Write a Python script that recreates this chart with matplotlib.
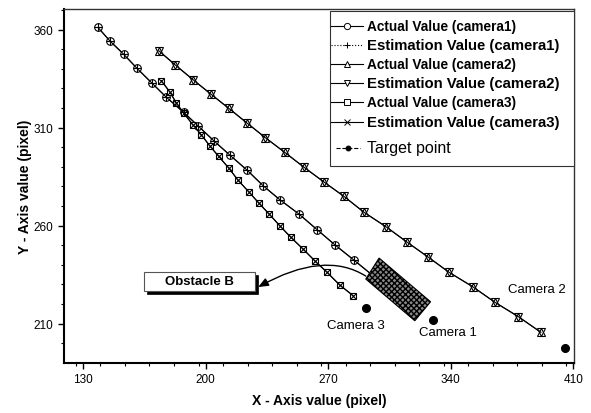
import matplotlib
matplotlib.use("Agg")
import matplotlib.pyplot as plt
from matplotlib.patches import Polygon, Rectangle, FancyArrowPatch
from matplotlib.path import Path
from matplotlib.ticker import MultipleLocator

plt.rcParams['font.family'] = ['Liberation Sans', 'DejaVu Sans']

# ---- trajectories (pixel coordinates on the image plane) ----
cam1_actual_x = [138.6, 145.3, 153.4, 160.9, 169.4, 177.7, 187.5, 195.7, 204.7, 213.8,
                 223.7, 232.9, 242.4, 253.3, 263.7, 273.8, 284.7, 295.5]
cam1_actual_y = [361.1, 354.3, 347.3, 340.2, 332.7, 325.4, 317.8, 310.9, 303.3, 296.0,
                 288.3, 280.3, 273.2, 265.9, 257.9, 250.2, 242.4, 234.5]
cam1_est_x = [138.6, 145.3, 153.4, 160.9, 169.4, 177.7, 187.5, 195.7, 204.7, 213.8,
              223.7, 232.9, 242.4, 253.3, 263.7, 273.8, 284.7, 295.5]
cam1_est_y = [361.1, 354.3, 347.3, 340.2, 332.7, 325.4, 317.8, 310.9, 303.3, 296.0,
              288.3, 280.3, 273.2, 265.9, 257.9, 250.2, 242.4, 234.5]

cam2_actual_x = [173.3, 182.8, 192.9, 203.0, 213.3, 223.7, 234.2, 245.3, 256.3, 267.5,
                 279.0, 290.6, 303.0, 314.8, 326.8, 339.1, 352.5, 365.3, 378.6, 391.5]
cam2_actual_y = [349.2, 341.9, 334.4, 327.1, 319.8, 312.3, 304.8, 297.3, 289.7, 282.3,
                 274.9, 266.7, 259.4, 251.7, 244.1, 236.1, 228.8, 220.8, 213.5, 205.5]
cam2_est_x = [173.3, 182.8, 192.9, 203.0, 213.3, 223.7, 234.2, 245.3, 256.3, 267.5,
              279.0, 290.6, 303.0, 314.8, 326.8, 339.1, 352.5, 365.3, 378.6, 391.5]
cam2_est_y = [349.2, 341.9, 334.4, 327.1, 319.8, 312.3, 304.8, 297.3, 289.7, 282.3,
              274.9, 266.7, 259.4, 251.7, 244.1, 236.1, 228.8, 220.8, 213.5, 205.5]

cam3_actual_x = [174.8, 179.5, 183.4, 187.5, 192.9, 197.7, 202.4, 207.5, 213.4, 218.6,
                 224.7, 230.4, 236.3, 242.4, 248.7, 255.7, 262.4, 269.4, 276.7, 284.3]
cam3_actual_y = [333.9, 328.3, 322.5, 317.4, 311.3, 306.2, 300.7, 295.3, 289.2, 283.1,
                 277.2, 271.5, 265.9, 259.9, 254.0, 248.0, 242.0, 236.1, 229.6, 224.2]
cam3_est_x = [174.8, 179.5, 183.4, 187.5, 192.9, 197.7, 202.4, 207.5, 213.4, 218.6,
              224.7, 230.4, 236.3, 242.4, 248.7, 255.7, 262.4, 269.4, 276.7, 284.3]
cam3_est_y = [333.9, 328.3, 322.5, 317.4, 311.3, 306.2, 300.7, 295.3, 289.2, 283.1,
              277.2, 271.5, 265.9, 259.9, 254.0, 248.0, 242.0, 236.1, 229.6, 224.2]

target_x = [330.1, 405.5, 291.5]
target_y = [211.9, 197.3, 217.9]
camera_names = ["Camera 1", "Camera 2", "Camera 3"]
camera_label_x = [338.6, 389.4, 285.8]
camera_label_y = [205.5, 227.6, 209.3]

# obstacle footprint and its callout
obstacle_corners = [(299.1, 243.4), (328.5, 221.1), (319.5, 211.4), (291.5, 232.7)]
callout_box = (164.7, 226.7, 63.4, 9.7)   # x, y, width, height
callout_curve = [(291.5, 234.2), (267.8, 247.5), (230.1, 228.6)]

x_ticks = [130, 200, 270, 340, 410]
y_ticks = [210, 260, 310, 360]

legend_labels = ["Actual Value (camera1)", "Estimation Value (camera1)",
                 "Actual Value (camera2)", "Estimation Value (camera2)",
                 "Actual Value (camera3)", "Estimation Value (camera3)",
                 "Target point"]

FIG_W, FIG_H = 591, 414
AX_L, AX_R, AX_T, AX_B = 64, 574, 10, 363.5

fig = plt.figure(figsize=(FIG_W / 100, FIG_H / 100), dpi=100)
ax = fig.add_axes([AX_L / FIG_W, 1 - AX_B / FIG_H,
                   (AX_R - AX_L) / FIG_W, (AX_B - AX_T) / FIG_H])


def to_axes(px, py):
    """Figure-pixel layout position (origin top-left) -> axes fraction."""
    return (px - AX_L) / (AX_R - AX_L), (AX_B - py) / (AX_B - AX_T)


line_kw = dict(color='black', lw=0.8)
ms = 5.5
ax.plot(cam1_actual_x, cam1_actual_y, marker='o', ms=ms, mfc='white', mec='black', mew=0.8,
        zorder=3, **line_kw)
ax.plot(cam1_est_x, cam1_est_y, marker='+', ms=ms, mec='black', mew=0.8, zorder=4, **line_kw)
ax.plot(cam2_actual_x, cam2_actual_y, marker='^', ms=ms, mfc='white', mec='black', mew=0.8,
        zorder=3, **line_kw)
ax.plot(cam2_est_x, cam2_est_y, marker='v', ms=ms, mfc='none', mec='black', mew=0.8,
        zorder=4, **line_kw)
ax.plot(cam3_actual_x, cam3_actual_y, marker='s', ms=ms - 0.5, mfc='white', mec='black',
        mew=0.8, zorder=3, **line_kw)
ax.plot(cam3_est_x, cam3_est_y, marker='x', ms=ms - 1.0, mec='black', mew=0.8, zorder=4,
        **line_kw)
ax.plot(target_x, target_y, ls='none', marker='o', ms=5.5, color='black', zorder=4)

for name, lx, ly in zip(camera_names, camera_label_x, camera_label_y):
    ax.text(lx, ly, name, fontsize=9.5, ha='center', va='center')

# obstacle drawn over the trajectories
obstacle = Polygon(obstacle_corners, closed=True, facecolor='#8a8a8a', edgecolor='black',
                   hatch='xxxxxx', lw=0.8, zorder=6)
ax.add_patch(obstacle)

bx, by, bw, bh = callout_box
ax.add_patch(Rectangle((bx + 1.8, by - 1.8), bw, bh, facecolor='black', edgecolor='black',
                       lw=0.5, zorder=6))
ax.add_patch(Rectangle((bx, by), bw, bh, facecolor='white', edgecolor='#555555',
                       lw=0.8, zorder=7))
ax.text(bx + bw / 2, by + bh / 2, "Obstacle B", fontsize=9.5, fontweight='bold',
        ha='center', va='center', zorder=8)

curve = Path(callout_curve, [Path.MOVETO, Path.CURVE3, Path.CURVE3])
ax.add_patch(FancyArrowPatch(path=curve, arrowstyle='-|>,head_length=6,head_width=2.5',
                             color='black', lw=1.0, zorder=7))

# axes styling
ax.set_xlim(119.2, 410.4)
ax.set_ylim(190.1, 370.5)
ax.set_xticks(x_ticks)
ax.set_yticks(y_ticks)
ax.xaxis.set_minor_locator(MultipleLocator(14))
ax.yaxis.set_minor_locator(MultipleLocator(10))
ax.tick_params(which='major', direction='out', length=4.5, width=1.0, labelsize=8.5, pad=3)
ax.tick_params(which='minor', direction='out', length=2.5, width=0.8)
for side in ('left', 'bottom'):
    ax.spines[side].set_linewidth(1.5)
for side in ('top', 'right'):
    ax.spines[side].set_linewidth(1.0)
    ax.spines[side].set_color('#333333')

ax.set_xlabel("X - Axis value (pixel)", fontsize=10, fontweight='bold', labelpad=6)
ax.set_ylabel("Y - Axis value (pixel)", fontsize=10, fontweight='bold', labelpad=1)

# ---- legend box, laid out row by row ----
lx0, ly0 = to_axes(330, 167)
lx1, ly1 = to_axes(574, 12)
ax.add_patch(Rectangle((lx0, ly0), lx1 - lx0, ly1 - ly0, transform=ax.transAxes,
                       facecolor='white', edgecolor='#333333', lw=0.8, zorder=10,
                       clip_on=False))

row_px = [27, 46, 65, 84, 103, 123, 149]
row_styles = [
    dict(marker='o', ms=4.5, mfc='white', ls='-'),
    dict(marker='+', ms=5.0, mfc='none', ls=':'),
    dict(marker='^', ms=4.5, mfc='white', ls='-'),
    dict(marker='v', ms=4.5, mfc='white', ls='-'),
    dict(marker='s', ms=4.0, mfc='white', ls='-'),
    dict(marker='x', ms=4.5, mfc='none', ls='-'),
    dict(marker='o', ms=3.5, mfc='black', ls='--'),
]
row_sizes = [9.8, 10.7, 9.8, 10.7, 9.8, 10.7, 11.5]
row_weights = ['bold'] * 6 + ['normal']

for label, py, st, fs, fw in zip(legend_labels, row_px, row_styles, row_sizes, row_weights):
    if st['ls'] == '--':
        hx0, hx1, hm = 336, 360, 348
    else:
        hx0, hx1, hm = 331, 363, 347
    (ax0, ay), (ax1, _), (am, _) = to_axes(hx0, py), to_axes(hx1, py), to_axes(hm, py)
    ax.plot([ax0, ax1], [ay, ay], transform=ax.transAxes, color='black', lw=0.8,
            ls=st['ls'], zorder=11, clip_on=False)
    ax.plot([am], [ay], transform=ax.transAxes, marker=st['marker'], ms=st['ms'],
            mfc=st['mfc'], mec='black', mew=0.7, ls='none', zorder=12, clip_on=False)
    tx, ty = to_axes(367, py)
    ax.text(tx, ty, label, transform=ax.transAxes, fontsize=fs, fontweight=fw,
            ha='left', va='center', zorder=12)

fig.savefig("out.png", dpi=100)
